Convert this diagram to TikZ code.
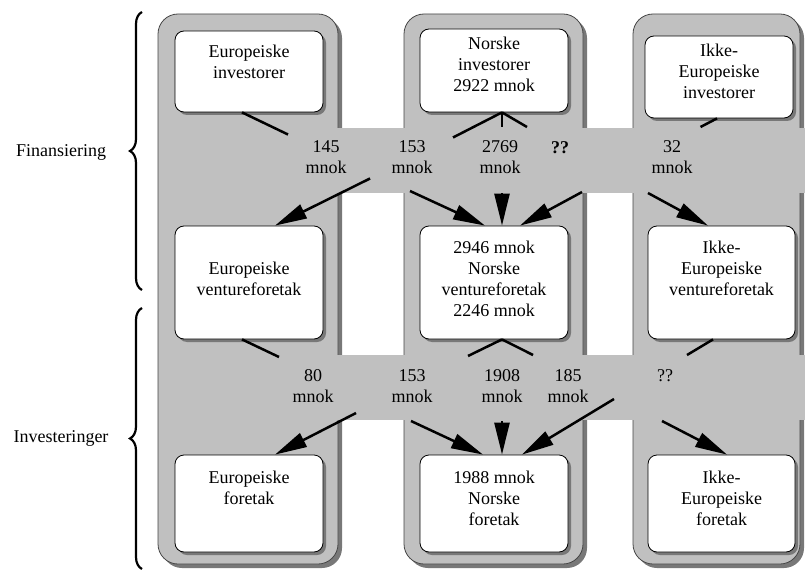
\documentclass[tikz,border=0pt]{standalone}
\usepackage{fontspec}
\setmainfont{Liberation Serif}
\usetikzlibrary{arrows.meta,decorations.pathreplacing}
\definecolor{lanegray}{RGB}{192,192,192}
\definecolor{shadegray}{RGB}{120,120,120}
\definecolor{edgegray}{RGB}{70,70,70}
\newcommand{\bt}[4]{\parbox[c][#2][t]{#1}{\vspace*{#3}\centering #4\par}}
\begin{document}
\begin{tikzpicture}[x=1pt,y=-1pt,
  lane/.style={rectangle, rounded corners=20pt, fill=lanegray, draw=edgegray, line width=0.8pt,
    preaction={fill=shadegray, transform canvas={xshift=4pt,yshift=-4pt}}, inner sep=0pt},
  box/.style={rectangle, rounded corners=9pt, fill=white, draw=black, line width=0.8pt,
    preaction={fill=shadegray, transform canvas={xshift=3pt,yshift=-3pt}}, inner sep=0pt,
    font=\fontsize{18}{21}\selectfont},
  flowlab/.style={align=center, font=\fontsize{18}{21}\selectfont, inner sep=0pt},
  sidelab/.style={font=\fontsize{18}{21}\selectfont, inner sep=0pt},
  stub/.style={line width=2.5pt},
  flow/.style={line width=2.5pt, -{Triangle[length=32pt,width=15pt]}},
  bracestyle/.style={line width=2.2pt, decorate, decoration={brace, amplitude=12pt}},
]
\useasboundingbox (0,0) rectangle (805,572);
\fill[white] (0,0) rectangle (805,572);

% lanes
\node[lane, minimum width=180pt, minimum height=550pt] (lane1) at (248,289) {};
\node[lane, minimum width=179pt, minimum height=550pt] (lane2) at (493.5,289) {};
\node[lane, minimum width=167pt, minimum height=550pt] (lane3) at (716.5,289) {};

% bands
\fill[lanegray] (288,128) rectangle (805,193);
\fill[lanegray] (200,355) rectangle (805,420);

% boxes row 1
\node[box, minimum width=148pt, minimum height=81pt] (ei) at (249,71.5)
  {\bt{148pt}{81pt}{14pt}{Europeiske\\investorer}};
\node[box, minimum width=148pt, minimum height=83pt] (ni) at (494,70.5)
  {\bt{148pt}{83pt}{8pt}{Norske\\investorer\\2922 mnok}};
\node[box, minimum width=148pt, minimum height=82pt] (ki) at (719,77)
  {\bt{148pt}{82pt}{8pt}{Ikke-\\Europeiske\\investorer}};
% row 2
\node[box, minimum width=148pt, minimum height=113pt] (evf) at (249,282.5)
  {\bt{148pt}{113pt}{36pt}{Europeiske\\ventureforetak}};
\node[box, minimum width=148pt, minimum height=113pt] (nvf) at (494,282.5)
  {\bt{148pt}{113pt}{15pt}{2946 mnok\\Norske\\ventureforetak\\2246 mnok}};
\node[box, minimum width=147pt, minimum height=113pt] (kvf) at (721.5,282.5)
  {\bt{147pt}{113pt}{15pt}{Ikke-\\Europeiske\\ventureforetak}};
% row 3
\node[box, minimum width=148pt, minimum height=97pt] (ef) at (249,503.5)
  {\bt{148pt}{97pt}{16pt}{Europeiske\\foretak}};
\node[box, minimum width=148pt, minimum height=97pt] (nf) at (494,503.5)
  {\bt{148pt}{97pt}{16pt}{1988 mnok\\Norske\\foretak}};
\node[box, minimum width=147pt, minimum height=97pt] (kf) at (721.5,503.5)
  {\bt{147pt}{97pt}{16pt}{Ikke-\\Europeiske\\foretak}};

% band 1 free ends
\coordinate (c1) at (288,134.5);
\coordinate (c2) at (453,137.5);
\coordinate (c3) at (502,127);
\coordinate (c4) at (527,127);
\coordinate (c5) at (700.5,127);
\coordinate (s1) at (370,178.5);
\coordinate (s2) at (410,191);
\coordinate (s3) at (502,193);
\coordinate (s4) at (582,192);
\coordinate (s5) at (648,193);
% band 2 free ends
\coordinate (d1) at (279,357);
\coordinate (d2) at (468,356);
\coordinate (d4) at (533,355);
\coordinate (d5) at (687,355);
\coordinate (t1) at (356,413);
\coordinate (t2) at (411,421);
\coordinate (t3) at (502,421);
\coordinate (t4) at (614,399);
\coordinate (t5) at (662,421);

% band 1 connectors
\draw[stub] ([xshift=-7pt]ei.south) -- (c1);
\draw[stub] ([xshift=8pt]ni.south) -- (c2);
\draw[stub] ([xshift=8pt]ni.south) -- (c3);
\draw[stub] ([xshift=8pt]ni.south) -- (c4);
\draw[stub] ([xshift=-2pt]ki.south) -- (c5);
\draw[flow] (s1) -- ([xshift=26pt]evf.north);
\draw[flow] (s2) -- ([xshift=-9pt]nvf.north);
\draw[flow] (s3) -- ([xshift=8pt]nvf.north);
\draw[flow] (s4) -- ([xshift=26pt]nvf.north);
\draw[flow] (s5) -- ([xshift=-13.5pt]kvf.north);

% band 2 connectors
\draw[stub] ([xshift=-7pt]evf.south) -- (d1);
\draw[stub] ([xshift=8pt]nvf.south) -- (d2);
\draw[stub] ([xshift=8pt]nvf.south) -- (d4);
\draw[stub] ([xshift=-8.5pt]kvf.south) -- (d5);
\draw[flow] (t1) -- ([xshift=26pt]ef.north);
\draw[flow] (t2) -- ([xshift=-11pt]nf.north);
\draw[flow] (t3) -- ([xshift=8pt]nf.north);
\draw[flow] (t4) -- ([xshift=28pt]nf.north);
\draw[flow] (t5) -- ([xshift=5.5pt]kf.north);

% flow labels band 1
\node[flowlab] (l145) at (326,157) {145\\mnok};
\node[flowlab] (l153a) at (412,157) {153\\mnok};
\node[flowlab] (l2769) at (500,157) {2769\\mnok};
\node[flowlab, font=\fontsize{18}{21}\selectfont\bfseries] (lqa) at (560,148) {??};
\node[flowlab] (l32) at (672,157) {32\\mnok};
% flow labels band 2
\node[flowlab] (l80) at (313,386) {80\\mnok};
\node[flowlab] (l153b) at (412,386) {153\\mnok};
\node[flowlab] (l1908) at (502,386) {1908\\mnok};
\node[flowlab] (l185) at (568,386) {185\\mnok};
\node[flowlab] (lqb) at (665,376) {??};

% braces
\draw[bracestyle] (142,290) -- (142,12);
\draw[bracestyle] (142,569) -- (142,308);
\node[sidelab] (fin) at (61,152) {Finansiering};
\node[sidelab] (inv) at (61,438) {Investeringer};
\end{tikzpicture}
\end{document}
